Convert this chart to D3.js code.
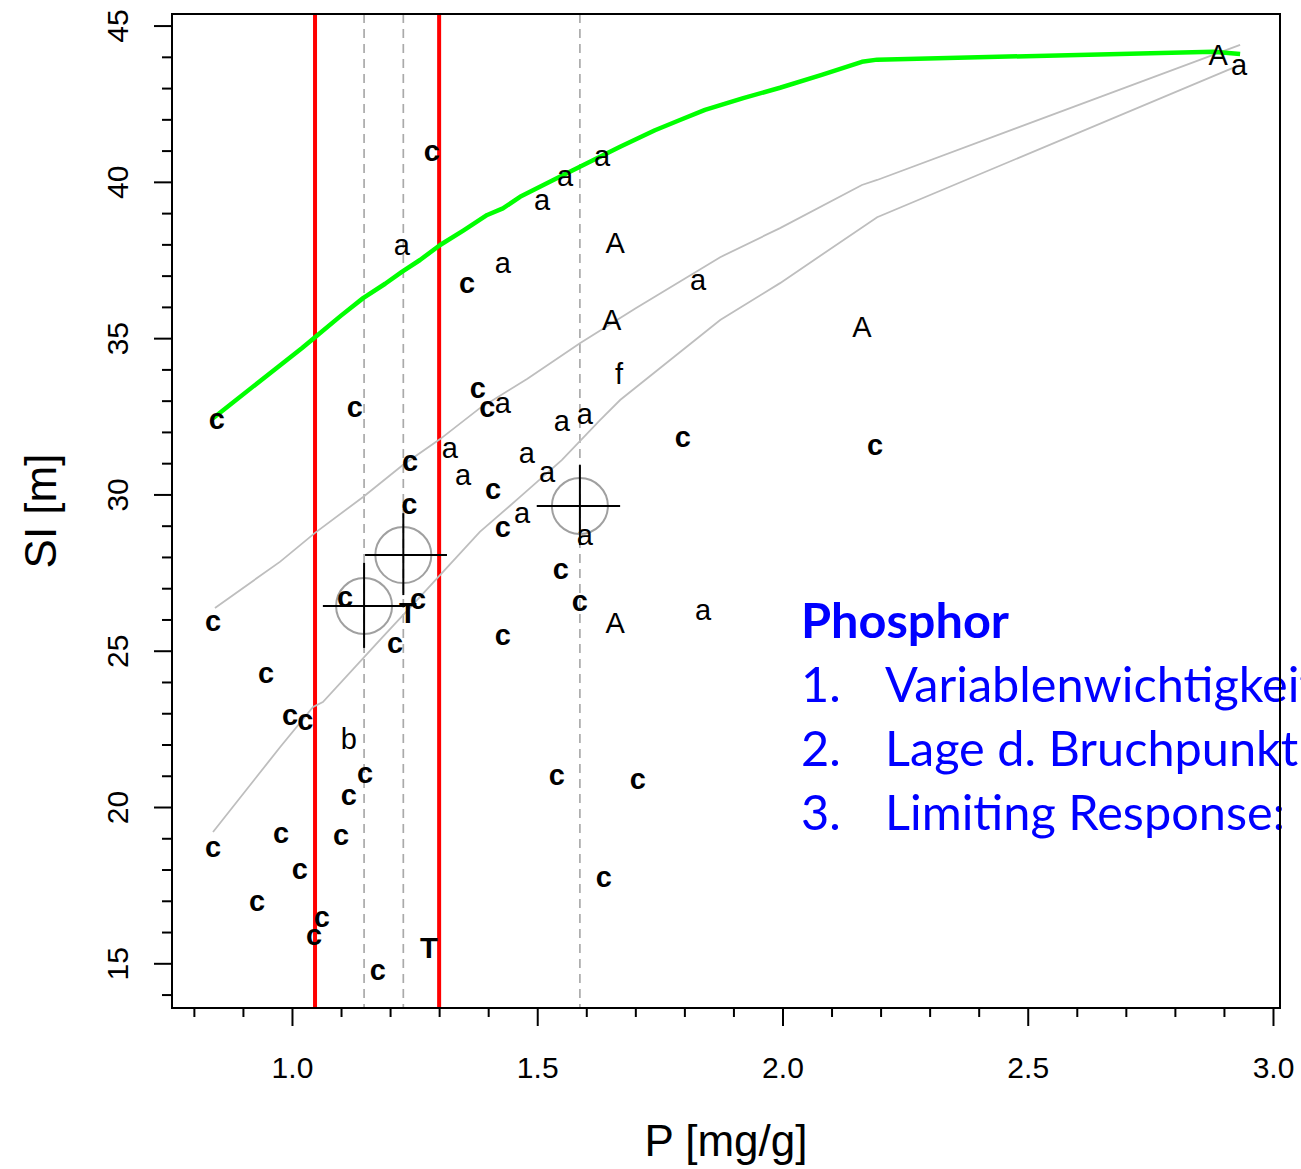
<!DOCTYPE html>
<html>
<head>
<meta charset="utf-8">
<script src="https://cdn.jsdelivr.net/npm/d3@7"></script>
<style>
  html, body { margin: 0; padding: 0; background: #fff; }
  svg { display: block; }
  .rtext { font-family: "Liberation Sans", Arial, Helvetica, sans-serif; }
</style>
</head>
<body>
<svg id="chart" width="1301" height="1169"></svg>
<script>
// ---- data: P [mg/g] vs SI [m], plotted with letter symbols ----
const pointsC = [
  [0.847, 32.35], [1.128, 32.73], [1.285, 40.92], [1.357, 36.70], [1.379, 33.34],
  [1.398, 32.73], [1.241, 31.00], [1.239, 29.63], [1.410, 30.11], [1.430, 28.89],
  [1.797, 31.77], [2.189, 31.52], [1.548, 27.55], [1.587, 26.53], [1.108, 26.65],
  [1.257, 26.59], [1.210, 25.18], [1.430, 25.44], [0.839, 25.89], [0.947, 24.22],
  [0.996, 22.88], [1.027, 22.72], [1.149, 21.02], [1.116, 20.32], [1.100, 19.04],
  [0.978, 19.11], [1.016, 17.95], [0.929, 16.93], [0.839, 18.66], [1.061, 16.42],
  [1.045, 15.84], [1.175, 14.72], [1.540, 20.96], [1.705, 20.84], [1.636, 17.70]
];
const pointsLowerA = [
  [1.224, 37.91], [1.510, 39.35], [1.557, 40.12], [1.632, 40.76], [1.430, 37.34],
  [1.828, 36.79], [1.430, 32.86], [1.322, 31.42], [1.349, 30.56], [1.479, 31.26],
  [1.520, 30.65], [1.550, 32.28], [1.597, 32.51], [1.469, 29.34], [1.597, 28.64],
  [1.838, 26.24], [2.931, 43.67]
];
const pointsUpperA = [
  [1.659, 38.07], [1.652, 35.61], [2.162, 35.36], [1.659, 25.89], [2.888, 44.06]
];
const pointsF = [[1.667, 33.88]];
const pointsB = [[1.116, 22.18]];
const pointsT = [[1.279, 15.49], [1.236, 26.21]];

// upper limiting response curve (green)
const limitCurve = [
  [0.839, 32.44], [1.020, 34.68], [1.047, 35.03], [1.100, 35.72], [1.145, 36.28],
  [1.190, 36.74], [1.224, 37.12], [1.261, 37.50], [1.302, 37.98], [1.350, 38.45],
  [1.398, 38.94], [1.430, 39.15], [1.465, 39.52], [1.546, 40.16], [1.587, 40.48],
  [1.669, 41.12], [1.740, 41.65], [1.791, 41.98], [1.842, 42.30], [1.920, 42.68],
  [1.995, 43.01], [2.080, 43.42], [2.162, 43.84], [2.193, 43.91], [2.878, 44.16],
  [2.933, 44.09]
];
// two grey reference curves
const greyCurveUpper = [
  [0.843, 26.37], [0.976, 27.85], [1.047, 28.77], [1.145, 29.92], [1.226, 30.94],
  [1.302, 31.77], [1.383, 32.76], [1.480, 33.70], [1.587, 34.84], [1.700, 35.95],
  [1.873, 37.59], [1.995, 38.52], [2.162, 39.90], [2.193, 40.06], [2.933, 44.38]
];
const greyCurveLower = [
  [0.839, 19.20], [0.976, 21.92], [1.043, 23.20], [1.063, 23.36], [1.179, 25.34],
  [1.261, 26.72], [1.383, 28.80], [1.465, 29.92], [1.550, 31.10], [1.628, 32.38],
  [1.669, 33.02], [1.873, 35.58], [1.995, 36.76], [2.193, 38.87], [2.933, 43.74]
];

// breakpoints with intervals: [P, SI, P low, P high, SI low, SI high]
const breakpoints = [
  [1.147, 26.43, 1.063, 1.231, 25.09, 27.81],
  [1.227, 28.06, 1.149, 1.316, 26.78, 29.40],
  [1.587, 29.63, 1.499, 1.669, 28.38, 30.94]
];
const thresholdLines = [1.047, 1.300];     // red verticals
const breakpointLines = [1.147, 1.227, 1.587]; // dashed verticals

const xMajorTicks = [1.0, 1.5, 2.0, 2.5, 3.0];
const yMajorTicks = [15, 20, 25, 30, 35, 40, 45];
const xTitle = "P [mg/g]";
const yTitle = "SI [m]";
const noteTitle = "Phosphor";
const noteItems = [
  ["1.", "Variablenwichtigkeit"],
  ["2.", "Lage d. Bruchpunkt"],
  ["3.", "Limiting Response:"]
];

// ---- layout ----
const box = { left: 172, right: 1280, top: 14, bottom: 1008 };
const svg = d3.select("#chart");

const x = d3.scaleLinear().domain([0.7554, 3.0143]).range([box.left, box.right]);
const y = d3.scaleLinear().domain([13.57, 45.37]).range([box.bottom, box.top]);

const plot = svg.append("g");

// red threshold lines
plot.selectAll(".thr").data(thresholdLines).join("line")
  .attr("x1", d => x(d)).attr("x2", d => x(d))
  .attr("y1", box.top).attr("y2", box.bottom)
  .attr("stroke", "#ff0000").attr("stroke-width", 4);

// dashed breakpoint lines
plot.selectAll(".bpl").data(breakpointLines).join("line")
  .attr("x1", d => x(d)).attr("x2", d => x(d))
  .attr("y1", box.top).attr("y2", box.bottom)
  .attr("stroke", "#aaaaaa").attr("stroke-width", 1.7)
  .attr("stroke-dasharray", "9,6");

const line = d3.line().x(d => x(d[0])).y(d => y(d[1]));

plot.append("path").datum(greyCurveUpper).attr("d", line)
  .attr("fill", "none").attr("stroke", "#bebebe").attr("stroke-width", 1.8);
plot.append("path").datum(greyCurveLower).attr("d", line)
  .attr("fill", "none").attr("stroke", "#bebebe").attr("stroke-width", 1.8);
plot.append("path").datum(limitCurve).attr("d", line)
  .attr("fill", "none").attr("stroke", "#00ff00").attr("stroke-width", 4.5)
  .attr("stroke-linejoin", "round");

// breakpoint markers: circle plus interval cross
const bp = plot.selectAll(".bp").data(breakpoints).join("g");
bp.append("circle")
  .attr("cx", d => x(d[0])).attr("cy", d => y(d[1])).attr("r", 28)
  .attr("fill", "none").attr("stroke", "#a0a0a0").attr("stroke-width", 2);
bp.append("line")
  .attr("x1", d => x(d[2])).attr("x2", d => x(d[3]))
  .attr("y1", d => y(d[1])).attr("y2", d => y(d[1]))
  .attr("stroke", "#000").attr("stroke-width", 2);
bp.append("line")
  .attr("x1", d => x(d[0])).attr("x2", d => x(d[0]))
  .attr("y1", d => y(d[4])).attr("y2", d => y(d[5]))
  .attr("stroke", "#000").attr("stroke-width", 2);

// letter symbols; dy puts the glyph's visual centre on the point
function symbols(data, ch, bold, dy) {
  plot.append("g").selectAll("text").data(data).join("text")
    .attr("class", "rtext")
    .attr("x", d => x(d[0])).attr("y", d => y(d[1]))
    .attr("dy", dy)
    .attr("text-anchor", "middle")
    .attr("font-size", 29)
    .attr("font-weight", bold ? "bold" : "normal")
    .attr("fill", "#000")
    .text(ch);
}
symbols(pointsC, "c", true, "0.27em");
symbols(pointsLowerA, "a", false, "0.27em");
symbols(pointsUpperA, "A", false, "0.36em");
symbols(pointsF, "f", false, "0.36em");
symbols(pointsB, "b", false, "0.36em");
symbols(pointsT, "T", true, "0.36em");

// ---- note text (runs past the right edge) ----
const note = svg.append("g")
  .attr("font-family", "Lato, 'Open Sans', 'Noto Sans', sans-serif")
  .attr("fill", "#0000ff");
const fitProbe = note.append("text").attr("font-size", 50).text(noteItems[2][1]);
const noteSize = 50 * 400 / fitProbe.node().getComputedTextLength();
fitProbe.remove();
note.append("text").attr("x", 801).attr("y", 638)
  .attr("font-size", noteSize).attr("font-weight", "bold").text(noteTitle);
const baselines = [702, 766, 830];
noteItems.forEach((it, i) => {
  note.append("text").attr("x", 801).attr("y", baselines[i])
    .attr("font-size", noteSize).text(it[0]);
  note.append("text").attr("x", 885).attr("y", baselines[i])
    .attr("font-size", noteSize).text(it[1]);
});

// ---- frame and axes ----
svg.append("rect")
  .attr("x", box.left).attr("y", box.top)
  .attr("width", box.right - box.left).attr("height", box.bottom - box.top)
  .attr("fill", "none").attr("stroke", "#000").attr("stroke-width", 2);

const xMinor = d3.range(8, 31).map(v => v / 10).filter(v => !xMajorTicks.some(m => Math.abs(m - v) < 1e-9));
const yMinor = d3.range(14, 46).filter(v => !yMajorTicks.includes(v));

const gx = svg.append("g").attr("transform", `translate(0,${box.bottom})`);
gx.append("g").call(d3.axisBottom(x).tickValues(xMinor).tickSize(9).tickFormat(""))
  .call(g => g.select(".domain").remove());
gx.append("g").call(d3.axisBottom(x).tickValues(xMajorTicks).tickSize(18).tickFormat(d3.format(".1f")))
  .call(g => g.select(".domain").remove())
  .call(g => g.selectAll("text").attr("y", 70).attr("dy", 0)
    .attr("class", "rtext").attr("font-size", 30).attr("fill", "#000"));
gx.selectAll("line").attr("stroke", "#000").attr("stroke-width", 2);

const gy = svg.append("g").attr("transform", `translate(${box.left},0)`);
gy.append("g").call(d3.axisLeft(y).tickValues(yMinor).tickSize(10).tickFormat(""))
  .call(g => g.select(".domain").remove());
gy.append("g").call(d3.axisLeft(y).tickValues(yMajorTicks).tickSize(18).tickFormat(d3.format("d")))
  .call(g => g.select(".domain").remove())
  .call(g => g.selectAll("text")
    .attr("transform", "rotate(-90)")
    .attr("x", 0).attr("y", -44).attr("dy", 0)
    .attr("text-anchor", "middle")
    .attr("class", "rtext").attr("font-size", 30).attr("fill", "#000"));
gy.selectAll("line").attr("stroke", "#000").attr("stroke-width", 2);

// axis titles
svg.append("text").attr("class", "rtext")
  .attr("x", (box.left + box.right) / 2).attr("y", 1156)
  .attr("text-anchor", "middle").attr("font-size", 44).attr("fill", "#000")
  .text(xTitle);
svg.append("text").attr("class", "rtext")
  .attr("transform", `translate(56,${(box.top + box.bottom) / 2}) rotate(-90)`)
  .attr("text-anchor", "middle").attr("font-size", 44).attr("fill", "#000")
  .text(yTitle);
</script>
</body>
</html>
